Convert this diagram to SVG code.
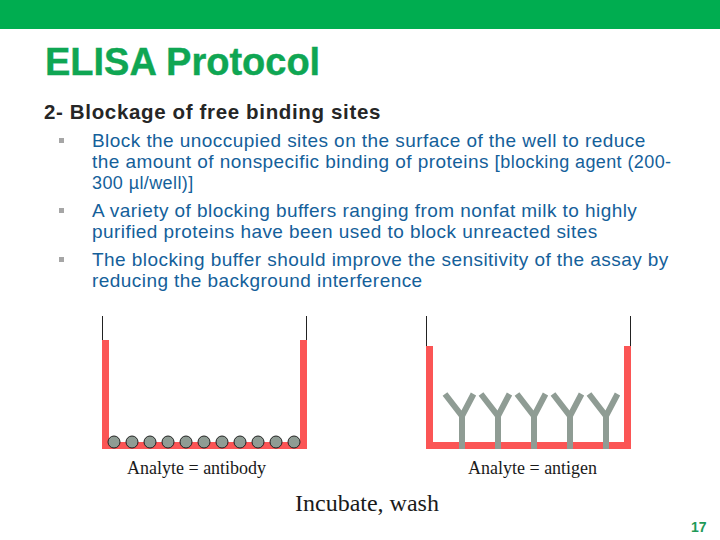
<svg xmlns="http://www.w3.org/2000/svg" width="720" height="540" viewBox="0 0 720 540">
<defs>
<style>
.body{font-family:"Liberation Sans",Arial,sans-serif;font-size:19px;fill:#14609a;letter-spacing:.44px}
.small{font-size:18px;letter-spacing:.4px}
.serif{font-family:"Liberation Serif","Times New Roman",serif;fill:#1a1a1a}
.well{fill:#fb5555}
.wire{stroke:#222;stroke-width:1;fill:none}
.bead{fill:#8f9c94;stroke:#222;stroke-width:1}
.ab{stroke:#8f9c94;stroke-width:6;fill:none}
.bullet{fill:#a6a6a6}
</style>
<g id="yshape"><path class="ab" d="M0 449V414M-17 394L0 416L11.500 394"/></g>
</defs>
<rect width="720" height="540" fill="#fff"/>
<rect id="header-bar" width="720" height="29" fill="#00ad50"/>
<text id="title" x="45" y="75" font-family="'Liberation Sans',Arial,sans-serif" font-size="38" font-weight="700" fill="#0fa653" stroke="#0fa653" stroke-width=".4">ELISA Protocol</text>
<text id="subtitle" x="44" y="119" font-family="'Liberation Sans',Arial,sans-serif" font-size="20.500" font-weight="700" fill="#262626" letter-spacing=".65">2- Blockage of free binding sites</text>
<g id="bullets">
<rect class="bullet" x="59" y="138" width="5" height="5"/>
<rect class="bullet" x="59" y="208" width="5" height="5"/>
<rect class="bullet" x="59" y="257" width="5" height="5"/>
<text class="body" x="92" y="147">Block the unoccupied sites on the surface of the well to reduce</text>
<text class="body" x="92" y="168">the amount of nonspecific binding of proteins [<tspan class="small">blocking agent (200-</tspan></text>
<text class="body small" x="92" y="189">300 µl/well)]</text>
<text class="body" x="92" y="217">A variety of blocking buffers ranging from nonfat milk to highly</text>
<text class="body" x="92" y="238">purified proteins have been used to block unreacted sites</text>
<text class="body" x="92" y="266">The blocking buffer should improve the sensitivity of the assay by</text>
<text class="body" x="92" y="287">reducing the background interference</text>
</g>
<g id="well-antibody">
<path class="wire" d="M102.500 316V340M306.500 316V340"/>
<path class="well" d="M102 340H109V442H300V340H307V449H102Z"/>
<g id="beads">
<circle class="bead" cx="114" cy="442" r="6"/><circle class="bead" cx="132" cy="442" r="6"/><circle class="bead" cx="150" cy="442" r="6"/><circle class="bead" cx="168" cy="442" r="6"/><circle class="bead" cx="186" cy="442" r="6"/><circle class="bead" cx="204" cy="442" r="6"/><circle class="bead" cx="222" cy="442" r="6"/><circle class="bead" cx="240" cy="442" r="6"/><circle class="bead" cx="258" cy="442" r="6"/><circle class="bead" cx="276" cy="442" r="6"/><circle class="bead" cx="294" cy="442" r="6"/>
</g>
<text class="serif" x="127" y="474" font-size="18">Analyte = antibody</text>
</g>
<g id="well-antigen">
<path class="wire" d="M426.500 316V346M630.500 316V346"/>
<path class="well" d="M426 346H433V442H624V346H631V449H426Z"/>
<use href="#yshape" x="462"/><use href="#yshape" x="498"/><use href="#yshape" x="534"/><use href="#yshape" x="570"/><use href="#yshape" x="606"/>
<text class="serif" x="468" y="474" font-size="18">Analyte = antigen</text>
</g>
<text id="caption" class="serif" x="295" y="511" font-size="24">Incubate, wash</text>
<text id="page" x="691" y="532" font-family="'Liberation Sans',Arial,sans-serif" font-size="14" font-weight="700" fill="#1f9a58">17</text>
</svg>
